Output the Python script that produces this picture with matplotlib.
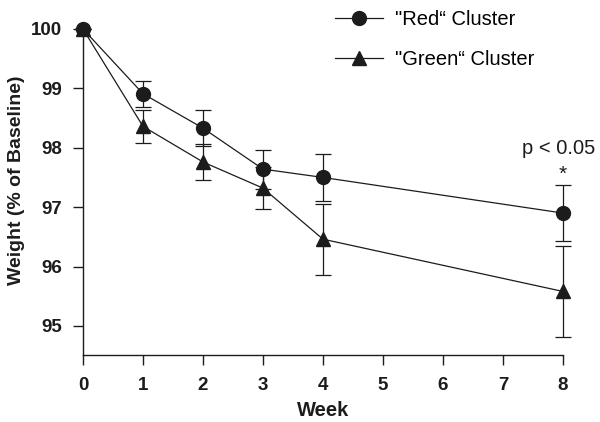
#!/usr/bin/env python3
"""Weight change over weeks for two clusters, with error bars."""

import matplotlib
matplotlib.use("Agg")
import matplotlib.pyplot as plt
from matplotlib.lines import Line2D

# Data
weeks = [0, 1, 2, 3, 4, 8]
red_mean = [100.0, 98.91, 98.33, 97.64, 97.50, 96.90]
red_err = [0.0, 0.22, 0.30, 0.33, 0.39, 0.47]
green_mean = [100.0, 98.36, 97.76, 97.32, 96.46, 95.58]
green_err = [0.0, 0.28, 0.31, 0.35, 0.60, 0.77]

x_ticks = [0, 1, 2, 3, 4, 5, 6, 7, 8]
y_ticks = [95, 96, 97, 98, 99, 100]

INK = "#1c1c1c"

plt.rcParams["font.family"] = ["Liberation Sans", "DejaVu Sans"]

fig = plt.figure(figsize=(6.0, 4.22), dpi=100)
ax = fig.add_axes([0.1383, 0.1588, 0.80, 0.7725])

common = dict(color=INK, linewidth=0.9, elinewidth=0.9, capsize=6,
              capthick=0.9, clip_on=False, markeredgecolor=INK,
              markerfacecolor=INK)
ax.errorbar(weeks, red_mean, yerr=red_err, marker="o", markersize=10,
            zorder=3, **common)
ax.errorbar(weeks, green_mean, yerr=green_err, marker="^", markersize=10.5,
            zorder=3, **common)

ax.set_xlim(0, 8)
ax.set_ylim(94.51, 100)
ax.set_xticks(x_ticks)
ax.set_yticks(y_ticks)
ax.tick_params(direction="out", length=7, width=1, colors=INK,
               labelsize=13.5)
ax.tick_params(axis="y", pad=8)
ax.tick_params(axis="x", pad=9)
for lbl in ax.get_xticklabels() + ax.get_yticklabels():
    lbl.set_fontweight("bold")

for side in ["top", "right"]:
    ax.spines[side].set_visible(False)
for side in ["left", "bottom"]:
    ax.spines[side].set_color(INK)
    ax.spines[side].set_linewidth(1.0)

ax.set_xlabel("Week", fontsize=14.5, fontweight="bold", color=INK,
              labelpad=5)
ax.set_ylabel("Weight (% of Baseline)", fontsize=14, fontweight="bold",
              color=INK)
ax.yaxis.set_label_coords(-0.121, 0.535)

# significance annotation at week 8
ax.text(8, red_mean[-1] + red_err[-1] + 0.02, "*", ha="center", va="bottom",
        fontsize=15, color=INK)
ax.text(7.93, red_mean[-1] + red_err[-1] + 0.45, "p < 0.05", ha="center",
        va="bottom", fontsize=14.5, color=INK)

handles = [
    Line2D([], [], color=INK, linewidth=0.9, marker="o", markersize=10,
           markerfacecolor=INK, markeredgecolor=INK),
    Line2D([], [], color=INK, linewidth=0.9, marker="^", markersize=10.5,
           markerfacecolor=INK, markeredgecolor=INK),
]
labels = ["\"Red\u201c Cluster", "\"Green\u201c Cluster"]
ax.legend(handles, labels, loc="upper left", bbox_to_anchor=(0.538, 1.005),
          bbox_transform=fig.transFigure, frameon=False, fontsize=14.5,
          handlelength=2.4, handletextpad=0.6, labelspacing=1.05,
          borderaxespad=0.2)

fig.savefig("out.png", dpi=100)
